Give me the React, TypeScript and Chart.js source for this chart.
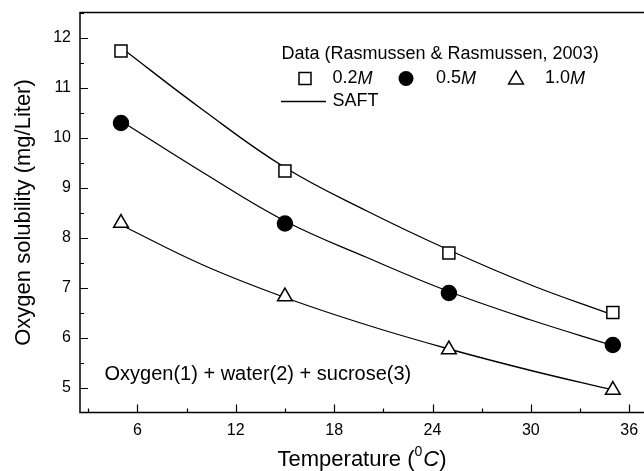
import React, { useEffect, useRef } from 'react';
import { Chart, registerables } from 'chart.js';

Chart.register(...registerables);

// ---- data ----
const temps = [5, 15, 25, 35];
const sol02 = [11.73, 9.33, 7.69, 6.5];
const sol05 = [10.29, 8.28, 6.89, 5.85];
const sol10 = [8.29, 6.82, 5.76, 4.95];

const saftT = [5, 10, 15, 20, 25, 30, 35];
const saft02 = [11.8, 10.55, 9.4, 8.53, 7.75, 7.05, 6.45];
const saft05 = [10.33, 9.3, 8.33, 7.6, 6.92, 6.35, 5.84];
const saft10 = [8.25, 7.45, 6.8, 6.25, 5.77, 5.34, 4.95];

const xTickValues = [6, 12, 18, 24, 30, 36];
const xMinorValues = [3, 9, 15, 21, 27, 33];
const yTickValues = [5, 6, 7, 8, 9, 10, 11, 12];
const yMinorValues = [5.5, 6.5, 7.5, 8.5, 9.5, 10.5, 11.5, 12.5];

const legendTitle = 'Data (Rasmussen & Rasmussen, 2003)';
const seriesLabels = ['0.2', '0.5', '1.0'];
const lineLabel = 'SAFT';
const systemLabel = 'Oxygen(1) + water(2) + sucrose(3)';
const yTitle = 'Oxygen solubility (mg/Liter)';

const FONT = '"Liberation Sans", Arial, Helvetica, sans-serif';

const toXY = (xs: number[], ys: number[]) => xs.map((x, i) => ({ x, y: ys[i] }));

function drawMarker(ctx: CanvasRenderingContext2D, kind: string, cx: number, cy: number) {
  ctx.save();
  ctx.lineWidth = 1.5;
  ctx.strokeStyle = '#000';
  ctx.beginPath();
  if (kind === 'rect') {
    const s = 6;
    ctx.rect(cx - s, cy - s, 2 * s, 2 * s);
    ctx.fillStyle = '#fff';
    ctx.fill();
    ctx.stroke();
  } else if (kind === 'circle') {
    ctx.arc(cx, cy, 7.5, 0, Math.PI * 2);
    ctx.fillStyle = '#000';
    ctx.fill();
  } else {
    const r = 8.5;
    ctx.moveTo(cx, cy - r * 0.75 - 1);
    ctx.lineTo(cx + r * 0.866, cy + r * 0.75 - 1);
    ctx.lineTo(cx - r * 0.866, cy + r * 0.75 - 1);
    ctx.closePath();
    ctx.fillStyle = '#fff';
    ctx.fill();
    ctx.stroke();
  }
  ctx.restore();
}

const zeroPadding = (scale: any) => {
  scale.paddingTop = 0;
  scale.paddingBottom = 0;
  scale.paddingLeft = 0;
  scale.paddingRight = 0;
};

const decorPlugin = {
  id: 'decor',
  afterDraw(chart: any) {
    const { ctx, chartArea: a, scales } = chart;
    const x = scales.x;
    const y = scales.y;
    ctx.save();
    ctx.strokeStyle = '#000';
    ctx.fillStyle = '#000';

    // frame (top, left, bottom)
    ctx.lineWidth = 1.5;
    ctx.beginPath();
    ctx.moveTo(a.right + 2, a.top);
    ctx.lineTo(a.left, a.top);
    ctx.lineTo(a.left, a.bottom);
    ctx.lineTo(a.right + 2, a.bottom);
    ctx.stroke();

    // inward ticks
    ctx.lineWidth = 1.2;
    ctx.beginPath();
    xTickValues.forEach((v) => {
      const px = Math.round(x.getPixelForValue(v)) + 0.5;
      ctx.moveTo(px, a.bottom);
      ctx.lineTo(px, a.bottom - 8);
    });
    xMinorValues.forEach((v) => {
      const px = Math.round(x.getPixelForValue(v)) + 0.5;
      ctx.moveTo(px, a.bottom);
      ctx.lineTo(px, a.bottom - 4);
    });
    yTickValues.forEach((v) => {
      const py = Math.round(y.getPixelForValue(v)) + 0.5;
      ctx.moveTo(a.left, py);
      ctx.lineTo(a.left + 8, py);
    });
    yMinorValues.forEach((v) => {
      const py = Math.round(y.getPixelForValue(v)) + 0.5;
      ctx.moveTo(a.left, py);
      ctx.lineTo(a.left + 4, py);
    });
    ctx.stroke();

    // x title: Temperature (^0 C)
    ctx.textBaseline = 'alphabetic';
    ctx.textAlign = 'left';
    const big = `22px ${FONT}`;
    const sup = `14px ${FONT}`;
    const ital = `italic 22px ${FONT}`;
    ctx.font = big;
    const p1 = 'Temperature (';
    const w1 = ctx.measureText(p1).width;
    ctx.font = sup;
    const w2 = ctx.measureText('0').width;
    ctx.font = ital;
    const w3 = ctx.measureText('C').width;
    ctx.font = big;
    const w4 = ctx.measureText(')').width;
    const total = w1 + w2 + w3 + w4 + 1;
    let tx = (a.left + a.right) / 2 - total / 2;
    const base = 466;
    ctx.font = big;
    ctx.fillText(p1, tx, base);
    tx += w1;
    ctx.font = sup;
    ctx.fillText('0', tx, base - 10);
    tx += w2 + 1;
    ctx.font = ital;
    ctx.fillText('C', tx, base);
    tx += w3;
    ctx.font = big;
    ctx.fillText(')', tx, base);

    // y title
    ctx.save();
    ctx.translate(24, (a.top + a.bottom) / 2);
    ctx.rotate(-Math.PI / 2);
    ctx.textAlign = 'center';
    ctx.textBaseline = 'middle';
    ctx.font = big;
    ctx.fillText(yTitle, 0, 0);
    ctx.restore();

    // legend
    ctx.textAlign = 'left';
    ctx.textBaseline = 'middle';
    ctx.font = `18px ${FONT}`;
    ctx.fillText(legendTitle, 281.5, 54);

    const markerX = [305, 406, 516];
    const textX = [332.5, 436, 545];
    const kinds = ['rect', 'circle', 'triangle'];
    const rowY = 78.5;
    kinds.forEach((k, i) => {
      drawMarker(ctx, k, markerX[i], rowY);
      ctx.font = `18px ${FONT}`;
      ctx.fillText(seriesLabels[i], textX[i], rowY);
      const w = ctx.measureText(seriesLabels[i]).width;
      ctx.font = `italic 18px ${FONT}`;
      ctx.fillText('M', textX[i] + w, rowY);
    });

    ctx.lineWidth = 1.3;
    ctx.beginPath();
    ctx.moveTo(281, 101.5);
    ctx.lineTo(326, 101.5);
    ctx.stroke();
    ctx.font = `18px ${FONT}`;
    ctx.fillText(lineLabel, 332.5, 101.5);

    // system annotation
    ctx.font = `20px ${FONT}`;
    ctx.fillText(systemLabel, 104.5, 374);

    ctx.restore();
  },
};

export default function App() {
  const ref = useRef<HTMLCanvasElement | null>(null);

  useEffect(() => {
    if (!ref.current) return;
    Chart.defaults.color = '#000';
    Chart.defaults.font.family = FONT;

    const lineDs = (data: number[], label: string) => ({
      label,
      data: toXY(saftT, data),
      showLine: true,
      pointRadius: 0,
      borderColor: '#000',
      borderWidth: 1.3,
      tension: 0.4,
      fill: false,
      order: 2,
    });
    const pointDs = (data: number[], label: string, style: string, fill: string, radius: number) => ({
      label,
      data: toXY(temps, data),
      showLine: false,
      pointStyle: style,
      pointRadius: radius,
      pointBackgroundColor: fill,
      pointBorderColor: '#000',
      pointBorderWidth: 1.5,
      order: 1,
    });

    const chart = new Chart(ref.current, {
      type: 'scatter',
      data: {
        datasets: [
          lineDs(saft02, 'SAFT 0.2M'),
          lineDs(saft05, 'SAFT 0.5M'),
          lineDs(saft10, 'SAFT 1.0M'),
          pointDs(sol02, '0.2M', 'rect', '#fff', 8.5),
          pointDs(sol05, '0.5M', 'circle', '#000', 7.5),
          pointDs(sol10, '1.0M', 'triangle', '#fff', 8.5),
        ],
      },
      options: {
        animation: false,
        responsive: true,
        maintainAspectRatio: false,
        layout: { autoPadding: false, padding: { top: 12.5, right: 0, left: 0, bottom: 0 } },
        plugins: {
          legend: { display: false },
          tooltip: { enabled: false },
          title: { display: false },
        },
        scales: {
          x: {
            type: 'linear',
            min: 2.5,
            max: 36.9,
            grid: { display: false, drawTicks: false },
            border: { display: false },
            ticks: {
              font: { size: 16, family: FONT },
              color: '#000',
              padding: 8,
              maxRotation: 0,
              autoSkip: false,
            },
            afterBuildTicks: (scale: any) => {
              scale.ticks = xTickValues.map((v) => ({ value: v }));
            },
            afterFit: (scale: any) => {
              scale.height = 58.5;
              zeroPadding(scale);
            },
          },
          y: {
            type: 'linear',
            min: 4.5,
            max: 12.5,
            grid: { display: false, drawTicks: false },
            border: { display: false },
            ticks: {
              font: { size: 16, family: FONT },
              color: '#000',
              padding: 9,
              autoSkip: false,
            },
            afterBuildTicks: (scale: any) => {
              scale.ticks = yTickValues.map((v) => ({ value: v }));
            },
            afterFit: (scale: any) => {
              scale.width = 80;
              zeroPadding(scale);
            },
          },
        },
      },
      plugins: [decorPlugin],
    } as any);

    return () => chart.destroy();
  }, []);

  return (
    <div
      style={{
        position: 'absolute',
        left: 0,
        top: 0,
        width: 644,
        height: 471,
        background: '#fff',
        overflow: 'hidden',
      }}
    >
      <canvas ref={ref} />
    </div>
  );
}
